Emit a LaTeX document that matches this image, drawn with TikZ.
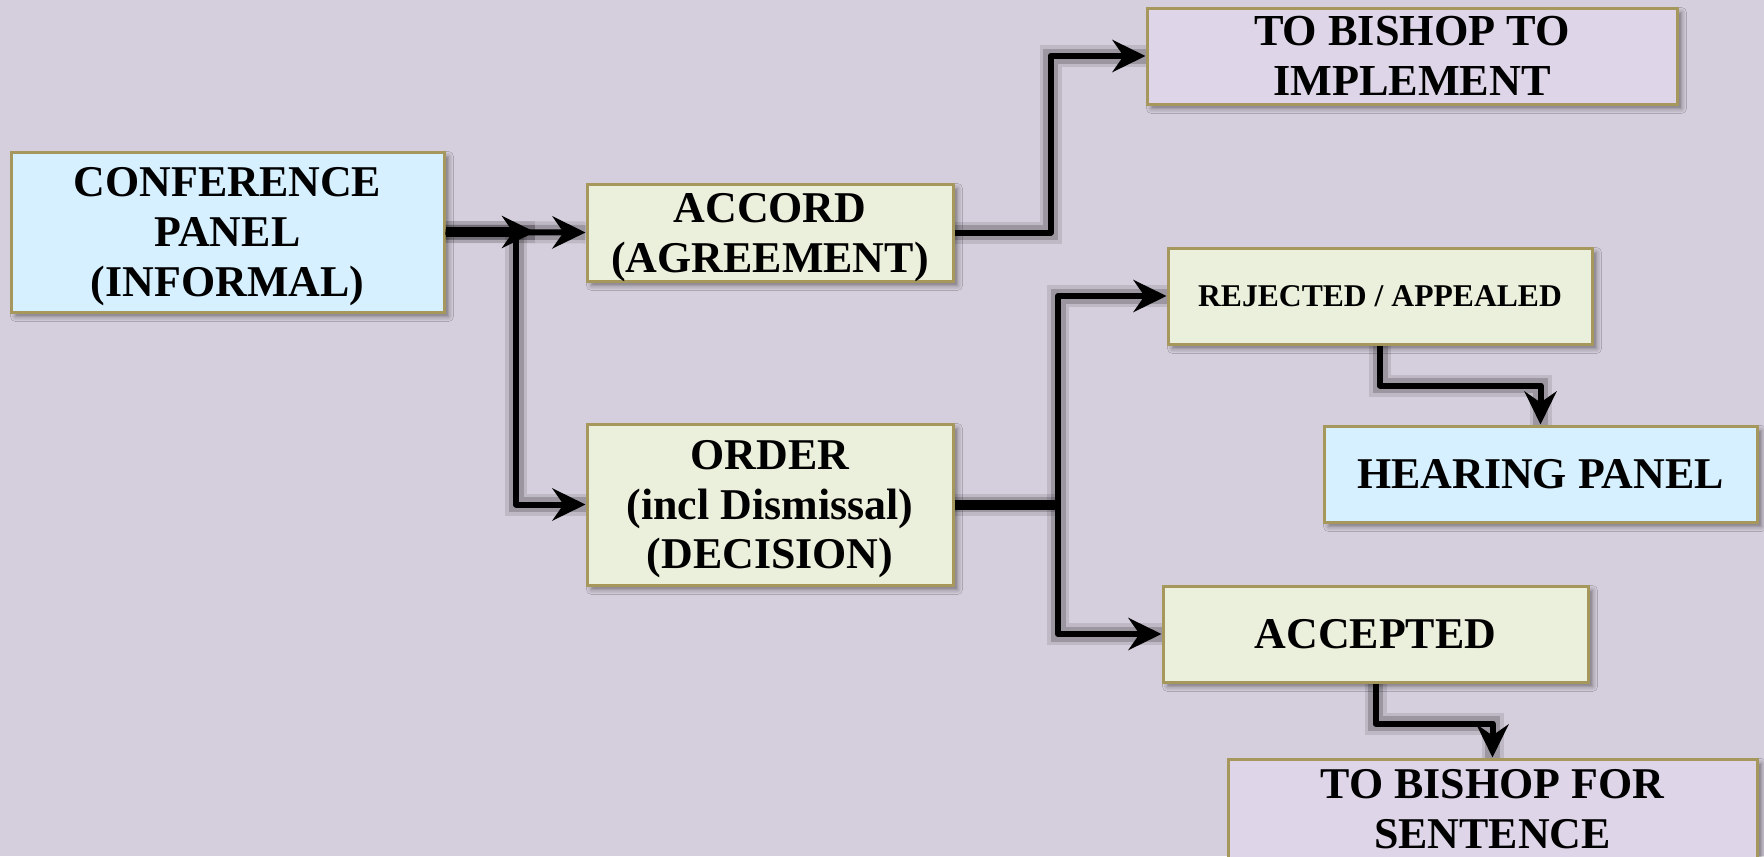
\documentclass[tikz,border=0pt]{standalone}
\usepackage{fontspec}
\setmainfont{Liberation Serif}
\usepackage{tikz}
\usetikzlibrary{positioning}
\usetikzlibrary{calc,arrows.meta,shadows.blur}
\definecolor{bgcol}{RGB}{213,206,220}
\definecolor{bluefill}{RGB}{214,240,255}
\definecolor{greenfill}{RGB}{235,240,220}
\definecolor{lilacfill}{RGB}{222,214,232}
\definecolor{goldline}{RGB}{166,152,92}

\begin{document}
\begin{tikzpicture}[x=0.1mm,y=-0.1mm,
box/.style={shape=rectangle,draw=goldline,line width=0.3mm,inner sep=0pt,align=center,text depth=0pt,
  font=\bfseries\fontsize{12.5}{14.2}\selectfont,
  blur shadow={shadow xshift=0.45mm,shadow yshift=-0.45mm,shadow blur radius=0.5mm,shadow opacity=45}},
bluebox/.style={box,fill=bluefill},
greenbox/.style={box,fill=greenfill},
lilacbox/.style={box,fill=lilacfill},
flow/.style={line width=0.6mm,line join=round,
  -{Stealth[length=3.3mm,width=3.2mm,inset=1.1mm]},
  preaction={draw,black,opacity=0.1,line width=2.2mm,-},
  preaction={draw,black,opacity=0.18,line width=1.5mm,-}},
thickflow/.style={flow,line width=1mm}]
\useasboundingbox[fill=bgcol] (0,0) rectangle (1764,856);
\path
(227.5,232) node [bluebox,minimum width=43.3mm,minimum height=16mm](conf) {CONFERENCE\\PANEL\\(INFORMAL)}
(770,232.5) node [greenbox,minimum width=36.6mm,minimum height=9.7mm](accord) {ACCORD\\(AGREEMENT)}
(770,504.5) node [greenbox,minimum width=36.6mm,minimum height=16.1mm](order) {ORDER\\(incl Dismissal)\\(DECISION)}
(1412,56) node [lilacbox,minimum width=53mm,minimum height=9.6mm,font=\bfseries\fontsize{12.6}{14.2}\selectfont](impl) {TO BISHOP TO\\IMPLEMENT}
(1380,296) node [greenbox,minimum width=42.4mm,minimum height=9.6mm,font=\bfseries\fontsize{9}{12}\selectfont](rej) {REJECTED / APPEALED}
(1540.5,474) node [bluebox,minimum width=43.3mm,minimum height=9.6mm](hear) {HEARING PANEL}
(1375.5,634) node [greenbox,minimum width=42.5mm,minimum height=9.6mm](acc) {ACCEPTED}
(1492.5,809) node [lilacbox,minimum width=52.9mm,minimum height=10mm,font=\bfseries\fontsize{12.5}{14.2}\selectfont](sent) {TO BISHOP FOR\\SENTENCE};
\coordinate (split) at (535,232);
\coordinate (fork) at (516,232);
\coordinate (fork2) at (1058,504.5);
\draw [flow](conf.east) --(accord.west);
\draw [thickflow](conf.east) --(split);
\draw [flow](fork) |-(order.west);
\draw [flow](accord.east) --++(96,0) |-(impl.west);
\draw [thickflow,-](order.east) --(fork2);
\draw [flow](fork2) |-(rej.west);
\draw [flow](fork2) |-(acc.west);
\draw [flow](rej.south) --++(0,40) -|(hear.north);
\draw [flow](acc.south) --++(0,40) -|(sent.north);
\end{tikzpicture}
\end{document}
